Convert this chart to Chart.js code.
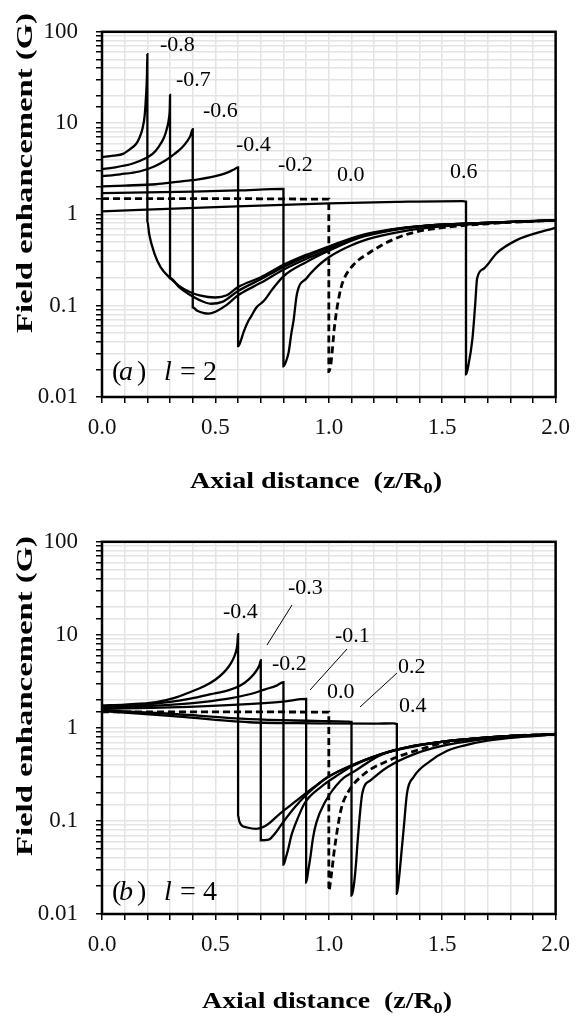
<!DOCTYPE html>
<html>
<head>
<meta charset="utf-8">
<script src="https://cdn.jsdelivr.net/npm/chart.js@4/dist/chart.umd.min.js"></script>
<style>
  html, body { margin: 0; padding: 0; background: #fff; }
  #wrap { position: relative; width: 581px; height: 1019px; }
  canvas { position: absolute; left: 0; }
</style>
</head>
<body>
<div id="wrap">
  <canvas id="chartA" width="581" height="510" style="top:0"></canvas>
  <canvas id="chartB" width="581" height="509" style="top:510px"></canvas>
</div>
<script>
// ------------------------
// Data
// ------------------------
const xTickLabels = ['0.0', '0.5', '1.0', '1.5', '2.0'];
const yTickLabels = ['0.01', '0.1', '1', '10', '100'];

// (a) l = 2
const zA_m08 = [0, 0.05, 0.093, 0.12, 0.15, 0.165, 0.179, 0.188, 0.194, 0.198, 0.2, 0.2, 0.208, 0.23, 0.259, 0.302, 0.34, 0.38, 0.43, 0.5, 0.55, 0.6, 0.7, 0.8, 0.9, 1.0, 1.13, 1.28, 1.42, 1.6, 1.8, 2.0];
const gA_m08 = [4.25, 4.4, 4.6, 5.1, 5.9, 6.9, 8.8, 12, 19.6, 32, 57, 0.85, 0.61, 0.38, 0.263, 0.199, 0.165, 0.144, 0.13, 0.123, 0.13, 0.16, 0.205, 0.28, 0.36, 0.445, 0.58, 0.69, 0.75, 0.79, 0.83, 0.86];

const zA_m07 = [0, 0.05, 0.136, 0.19, 0.223, 0.25, 0.273, 0.285, 0.295, 0.299, 0.3, 0.3, 0.34, 0.38, 0.43, 0.48, 0.53, 0.6, 0.7, 0.8, 0.9, 1.0, 1.13, 1.28, 1.42, 1.6, 1.8, 2.0];
const gA_m07 = [3.13, 3.25, 3.61, 4.1, 4.6, 5.5, 6.9, 8.5, 11.2, 15, 20.4, 0.2, 0.16, 0.135, 0.115, 0.105, 0.11, 0.145, 0.195, 0.265, 0.345, 0.43, 0.57, 0.68, 0.75, 0.79, 0.83, 0.86];

const zA_m06 = [0, 0.08, 0.165, 0.23, 0.281, 0.32, 0.353, 0.375, 0.389, 0.4, 0.4, 0.42, 0.45, 0.47, 0.5, 0.55, 0.6, 0.7, 0.8, 0.9, 1.0, 1.13, 1.28, 1.42, 1.6, 1.8, 2.0];
const gA_m06 = [2.62, 2.75, 2.95, 3.35, 3.92, 4.6, 5.4, 6.3, 7.2, 8.6, 0.096, 0.088, 0.083, 0.082, 0.086, 0.102, 0.13, 0.178, 0.248, 0.325, 0.41, 0.56, 0.68, 0.75, 0.79, 0.83, 0.86];

const zA_m04 = [0, 0.1, 0.237, 0.33, 0.425, 0.526, 0.56, 0.584, 0.6, 0.6, 0.61, 0.625, 0.645, 0.657, 0.68, 0.714, 0.75, 0.8, 0.9, 1.0, 1.13, 1.28, 1.42, 1.6, 1.8, 2.0];
const gA_m04 = [2.03, 2.07, 2.14, 2.27, 2.42, 2.73, 2.92, 3.13, 3.28, 0.036, 0.04, 0.052, 0.068, 0.076, 0.095, 0.113, 0.15, 0.21, 0.3, 0.4, 0.55, 0.67, 0.745, 0.79, 0.83, 0.86];

const zA_m02 = [0, 0.2, 0.4, 0.6, 0.8, 0.8, 0.81, 0.823, 0.835, 0.845, 0.859, 0.902, 0.95, 1.0, 1.1, 1.2, 1.35, 1.5, 1.7, 1.85, 2.0];
const gA_m02 = [1.71, 1.74, 1.78, 1.83, 1.9, 0.0217, 0.024, 0.031, 0.05, 0.07, 0.133, 0.2, 0.27, 0.34, 0.46, 0.56, 0.67, 0.74, 0.8, 0.84, 0.86];

const zA_00 = [0, 0.5, 1.0, 1.0, 1.01, 1.025, 1.047, 1.062, 1.105, 1.177, 1.278, 1.38, 1.51, 1.7, 1.85, 2.0];
const gA_00 = [1.49, 1.49, 1.47, 0.019, 0.024, 0.059, 0.133, 0.183, 0.274, 0.378, 0.523, 0.64, 0.72, 0.79, 0.83, 0.86];

const zA_06 = [0, 0.5, 1.0, 1.3, 1.59, 1.605, 1.605, 1.615, 1.633, 1.645, 1.654, 1.683, 1.741, 1.828, 1.929, 2.0];
const gA_06 = [1.08, 1.2, 1.32, 1.37, 1.4, 1.38, 0.0177, 0.022, 0.043, 0.1, 0.2, 0.254, 0.378, 0.523, 0.64, 0.71];

// (b) l = 4
const zB_m04 = [0, 0.1, 0.239, 0.32, 0.384, 0.45, 0.501, 0.535, 0.559, 0.575, 0.588, 0.597, 0.6, 0.6, 0.605, 0.615, 0.64, 0.68, 0.72, 0.79, 0.85, 0.937, 1.0, 1.083, 1.228, 1.374, 1.52, 1.7, 1.85, 2.0];
const gB_m04 = [1.74, 1.78, 1.89, 2.1, 2.4, 2.8, 3.31, 3.9, 4.57, 5.3, 6.3, 8, 10.2, 0.115, 0.1, 0.09, 0.085, 0.082, 0.088, 0.123, 0.16, 0.233, 0.3, 0.378, 0.52, 0.64, 0.72, 0.79, 0.83, 0.855];

const zB_m03 = [0, 0.15, 0.3, 0.384, 0.48, 0.559, 0.61, 0.646, 0.67, 0.683, 0.695, 0.7, 0.7, 0.735, 0.76, 0.8, 0.85, 0.9, 0.95, 1.0, 1.083, 1.228, 1.374, 1.52, 1.7, 1.85, 2.0];
const gB_m03 = [1.7, 1.75, 1.9, 2.05, 2.3, 2.55, 2.85, 3.31, 3.8, 4.2, 4.8, 5.36, 0.062, 0.063, 0.072, 0.098, 0.14, 0.19, 0.245, 0.3, 0.38, 0.52, 0.64, 0.72, 0.79, 0.83, 0.855];

const zB_m02 = [0, 0.2, 0.4, 0.55, 0.65, 0.72, 0.77, 0.8, 0.8, 0.81, 0.821, 0.835, 0.85, 0.894, 0.966, 1.03, 1.1, 1.228, 1.374, 1.52, 1.7, 1.85, 2.0];
const gB_m02 = [1.66, 1.72, 1.85, 2.05, 2.3, 2.6, 2.85, 3.1, 0.034, 0.04, 0.05, 0.07, 0.089, 0.156, 0.233, 0.3, 0.385, 0.52, 0.64, 0.72, 0.79, 0.83, 0.855];

const zB_m01 = [0, 0.3, 0.6, 0.8, 0.9, 0.9, 0.91, 0.92, 0.93, 0.945, 0.981, 1.054, 1.12, 1.228, 1.374, 1.52, 1.7, 1.85, 2.0];
const gB_m01 = [1.6, 1.66, 1.78, 1.92, 2.05, 0.0218, 0.03, 0.043, 0.065, 0.096, 0.156, 0.274, 0.35, 0.51, 0.63, 0.72, 0.79, 0.83, 0.855];

const zB_00 = [0, 0.5, 1.0, 1.0, 1.01, 1.025, 1.054, 1.083, 1.156, 1.258, 1.374, 1.52, 1.7, 1.85, 2.0];
const gB_00 = [1.49, 1.49, 1.48, 0.0178, 0.025, 0.05, 0.133, 0.2, 0.32, 0.44, 0.56, 0.7, 0.78, 0.83, 0.855];

const zB_02 = [0, 0.3, 0.65, 0.94, 1.08, 1.1, 1.1, 1.11, 1.12, 1.127, 1.148, 1.185, 1.258, 1.374, 1.5, 1.65, 1.8, 2.0];
const gB_02 = [1.55, 1.42, 1.24, 1.19, 1.17, 1.16, 0.0158, 0.02, 0.035, 0.06, 0.2, 0.274, 0.378, 0.52, 0.64, 0.74, 0.8, 0.855];

const zB_04 = [0, 0.3, 0.65, 0.94, 1.2, 1.285, 1.3, 1.3, 1.31, 1.32, 1.33, 1.345, 1.374, 1.447, 1.52, 1.6, 1.7, 1.85, 2.0];
const gB_04 = [1.52, 1.35, 1.15, 1.12, 1.11, 1.12, 1.1, 0.0165, 0.025, 0.045, 0.082, 0.2, 0.297, 0.44, 0.565, 0.65, 0.73, 0.8, 0.85];

// ------------------------
// Helpers
// ------------------------
function pts(z, g) {
    return z.map((v, i) => ({ x: v, y: g[i] }));
}

function series(z, g, dashed) {
    return {
        data: pts(z, g),
        borderColor: '#000',
        borderWidth: dashed ? 2.8 : 2.3,
        borderDash: dashed ? [7, 4] : [],
        pointRadius: 0,
        cubicInterpolationMode: 'monotone',
        fill: false
    };
}

const SERIF = '"Liberation Serif", "Times New Roman", serif';

// stretched bold title (parts allow a subscript)
function drawTitle(ctx, parts, cx, baseY, width, angle) {
    ctx.save();
    let w = 0;
    parts.forEach(p => {
        ctx.font = 'bold ' + p.size + 'px ' + SERIF;
        p.w = ctx.measureText(p.t).width;
        w += p.w;
    });
    ctx.translate(cx, baseY);
    ctx.rotate(angle);
    ctx.scale(width / w, 1);
    ctx.fillStyle = '#000';
    ctx.textBaseline = 'alphabetic';
    ctx.textAlign = 'left';
    let x = -w / 2;
    parts.forEach(p => {
        ctx.font = 'bold ' + p.size + 'px ' + SERIF;
        ctx.fillText(p.t, x, p.dy || 0);
        x += p.w;
    });
    ctx.restore();
}

// ------------------------
// Decoration plugin: box, titles, curve labels
// ------------------------
const decorPlugin = {
    id: 'decor',
    afterDraw(chart, args, o) {
        const ctx = chart.ctx;
        const a = chart.chartArea;
        ctx.save();
        ctx.strokeStyle = '#000';
        ctx.lineWidth = 2.5;
        ctx.strokeRect(a.left, a.top, a.right - a.left, a.bottom - a.top);

        // curve labels
        ctx.fillStyle = '#000';
        ctx.font = '22px ' + SERIF;
        ctx.textAlign = 'left';
        ctx.textBaseline = 'middle';
        o.labels.forEach(l => ctx.fillText(l.t, l.x, l.y));

        // leader lines
        ctx.lineWidth = 1;
        o.leaders.forEach(s => {
            ctx.beginPath();
            ctx.moveTo(s[0], s[1]);
            ctx.lineTo(s[2], s[3]);
            ctx.stroke();
        });

        // panel tag, e.g. (a) l = 2
        ctx.textBaseline = 'alphabetic';
        o.tag.forEach(g => {
            ctx.font = (g.it ? 'italic ' : '') + '28px ' + SERIF;
            ctx.fillText(g.t, g.x, o.tagY);
        });
        ctx.restore();

        drawTitle(ctx, [{ t: 'Field enhancement (G)', size: 24 }], 32, o.yTitleY, 320, -Math.PI / 2);
        drawTitle(ctx, [
            { t: 'Axial distance  (z/R', size: 23 },
            { t: '0', size: 15, dy: 5 },
            { t: ')', size: 23 }
        ], o.xTitleX, o.xTitleBase, o.xTitleW, 0);
    }
};

function makeOptions(box, decor) {
    const tickFont = { family: SERIF, size: 23 };
    return {
        responsive: false,
        animation: false,
        layout: { padding: { top: box.top, right: box.right, left: 0, bottom: 0 } },
        plugins: { legend: { display: false }, tooltip: { enabled: false }, decor: decor },
        scales: {
            x: {
                type: 'linear', min: 0, max: 2,
                ticks: {
                    stepSize: 0.1, autoSkip: false, maxRotation: 0, padding: 11,
                    font: tickFont, color: '#111',
                    callback: v => {
                        const k = Math.round(v * 10);
                        return k % 5 === 0 ? xTickLabels[k / 5] : '';
                    }
                },
                grid: { color: '#e4e4e4', lineWidth: 1.5, tickLength: 6, tickColor: '#000', tickWidth: 1.5 },
                border: { display: false },
                afterFit: s => { s.height = box.xh; }
            },
            y: {
                type: 'logarithmic', min: 0.01, max: 100,
                ticks: {
                    autoSkip: false, padding: 18, font: tickFont, color: '#111',
                    callback: v => {
                        const l = Math.log10(v);
                        return Math.abs(l - Math.round(l)) < 1e-6 ? yTickLabels[Math.round(l) + 2] : '';
                    }
                },
                grid: { color: '#e4e4e4', lineWidth: 1.5, tickLength: 6, tickColor: '#000', tickWidth: 1.5 },
                border: { display: false },
                afterFit: s => { s.width = 102; }
            }
        }
    };
}

// ------------------------
// Panel (a) l = 2
// ------------------------
new Chart(document.getElementById('chartA'), {
    type: 'line',
    data: {
        datasets: [
            series(zA_m08, gA_m08),
            series(zA_m07, gA_m07),
            series(zA_m06, gA_m06),
            series(zA_m04, gA_m04),
            series(zA_m02, gA_m02),
            series(zA_00, gA_00, true),
            series(zA_06, gA_06)
        ]
    },
    options: makeOptions({ top: 16, right: 18, xh: 113 }, {
        labels: [
            { t: '-0.8', x: 160, y: 45 },
            { t: '-0.7', x: 176, y: 80 },
            { t: '-0.6', x: 203, y: 111 },
            { t: '-0.4', x: 236, y: 145 },
            { t: '-0.2', x: 278, y: 165 },
            { t: '0.0', x: 337, y: 175 },
            { t: '0.6', x: 450, y: 172 }
        ],
        leaders: [],
        tag: [
            { t: '(', x: 112 }, { t: 'a', x: 119, it: true }, { t: ')', x: 137 },
            { t: 'l', x: 164, it: true }, { t: '=', x: 180 }, { t: '2', x: 203 }
        ],
        tagY: 380,
        yTitleY: 173,
        xTitleX: 316, xTitleBase: 488, xTitleW: 252
    }),
    plugins: [decorPlugin]
});

// ------------------------
// Panel (b) l = 4
// ------------------------
new Chart(document.getElementById('chartB'), {
    type: 'line',
    data: {
        datasets: [
            series(zB_m04, gB_m04),
            series(zB_m03, gB_m03),
            series(zB_m02, gB_m02),
            series(zB_m01, gB_m01),
            series(zB_00, gB_00, true),
            series(zB_02, gB_02),
            series(zB_04, gB_04)
        ]
    },
    options: makeOptions({ top: 22, right: 21, xh: 105 }, {
        labels: [
            { t: '-0.4', x: 223, y: 102 },
            { t: '-0.3', x: 288, y: 78 },
            { t: '-0.2', x: 272, y: 154 },
            { t: '-0.1', x: 335, y: 126 },
            { t: '0.0', x: 327, y: 182 },
            { t: '0.2', x: 398, y: 157 },
            { t: '0.4', x: 399, y: 196 }
        ],
        leaders: [
            [292, 95, 267, 135],
            [347, 139, 310, 180],
            [397, 163, 360, 197]
        ],
        tag: [
            { t: '(', x: 112 }, { t: 'b', x: 119, it: true }, { t: ')', x: 137 },
            { t: 'l', x: 164, it: true }, { t: '=', x: 180 }, { t: '4', x: 203 }
        ],
        tagY: 390,
        yTitleY: 186,
        xTitleX: 327, xTitleBase: 498, xTitleW: 250
    }),
    plugins: [decorPlugin]
});
</script>
</body>
</html>
